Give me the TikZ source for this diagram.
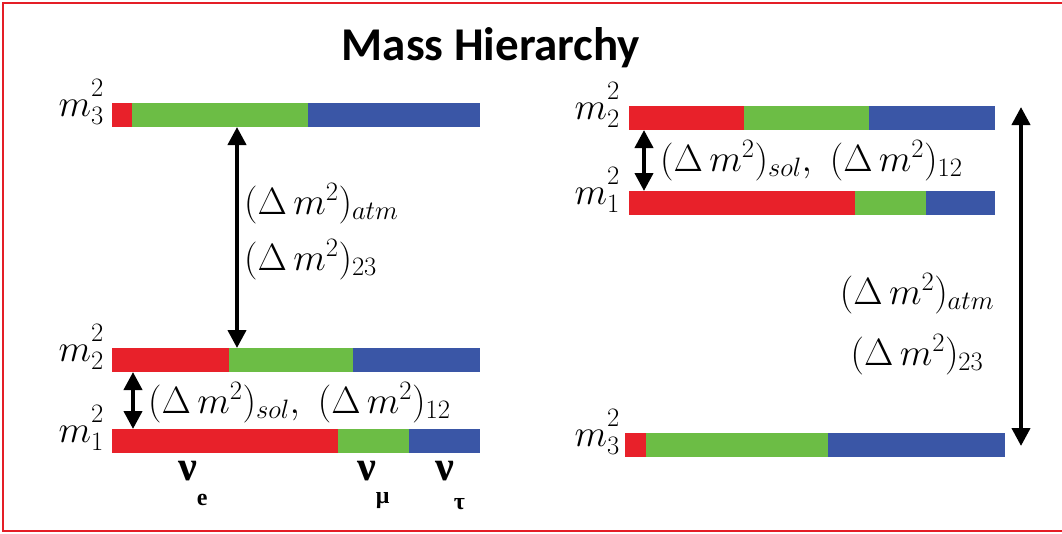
\documentclass[tikz,border=0pt]{standalone}
\usepackage{fix-cm}
\usepackage{fontspec}
\usepackage{tikz}
\usetikzlibrary{arrows.meta}
\newfontfamily\titlefont{Carlito}
\newfontfamily\nufont{Liberation Serif}
\definecolor{nuec}{HTML}{E8212A}
\definecolor{numuc}{HTML}{6CBD45}
\definecolor{nutauc}{HTML}{3A56A6}
\definecolor{framec}{HTML}{E41E26}
\tikzset{
  nue/.style={fill=nuec},
  numu/.style={fill=numuc},
  nutau/.style={fill=nutauc},
  gap/.style={{Triangle[width=18pt,length=18pt]}-{Triangle[width=18pt,length=18pt]}, line width=4pt},
  mlab/.style={anchor=base east, inner sep=0pt, font=\fontsize{38}{38}\selectfont},
  dlab/.style={anchor=base west, inner sep=0pt, font=\fontsize{38}{38}\selectfont},
  flab/.style={anchor=base west, inner sep=0pt, font=\nufont\bfseries\fontsize{42}{42}\selectfont},
}
\newcommand{\dmsq}[1]{(\Delta\, m^2)_{#1}}
\newcommand{\msq}[1]{m_{\mathstrut #1}^{\mathstrut 2}}
\newcommand{\flsub}[2]{\raisebox{#1}{\fontsize{24}{24}\selectfont #2}}

\begin{document}
\begin{tikzpicture}[x=1pt,y=-1pt]
\useasboundingbox (0,0) rectangle (1062,533);
\draw[framec, line width=2pt] (1062,3) -- (3,3) -- (3,531) -- (1062,531);
\node[anchor=base, inner sep=0pt, font=\titlefont\bfseries\fontsize{47}{47}\selectfont] (title) at (491,60) {Mass Hierarchy};
% normal ordering
\fill[nue]   (112,103) rectangle (132,127);
\fill[numu]  (132,103) rectangle (308,127);
\fill[nutau] (308,103) rectangle (480,127);
\fill[nue]   (112,348) rectangle (229,372);
\fill[numu]  (229,348) rectangle (353,372);
\fill[nutau] (353,348) rectangle (480,372);
\fill[nue]   (112,429) rectangle (338,453);
\fill[numu]  (338,429) rectangle (409,453);
\fill[nutau] (409,429) rectangle (480,453);
\node[mlab] (nm3) at (104,116) {$\msq{3}$};
\node[mlab] (nm2) at (104,361) {$\msq{2}$};
\node[mlab] (nm1) at (104,442) {$\msq{1}$};
\coordinate (n3b) at (237,127);
\coordinate (n2t) at (237,348);
\coordinate (n2b) at (133,372);
\coordinate (n1t) at (133,429);
\draw[gap] (n3b) -- (n2t);
\draw[gap] (n2b) -- (n1t);
\node[dlab] (natm) at (244,214) {$\dmsq{atm}$};
\node[dlab] (n23) at (244,270) {$\dmsq{23}$};
\node[dlab] (nsol) at (148,413) {$\dmsq{sol},\ \dmsq{12}$};
\node[flab] (fe) at (178,480) {ν\flsub{-25pt}{e}};
\node[flab] (fmu) at (357,480) {ν\flsub{-23pt}{μ}};
\node[flab] (ftau) at (435,480) {ν\flsub{-29pt}{τ}};
% inverted ordering
\fill[nue]   (629,106) rectangle (744,130);
\fill[numu]  (744,106) rectangle (869,130);
\fill[nutau] (869,106) rectangle (995,130);
\fill[nue]   (629,191) rectangle (855,215);
\fill[numu]  (855,191) rectangle (926,215);
\fill[nutau] (926,191) rectangle (995,215);
\fill[nue]   (625,433) rectangle (646,457);
\fill[numu]  (646,433) rectangle (828,457);
\fill[nutau] (828,433) rectangle (1005,457);
\node[mlab] (im2) at (620,119) {$\msq{2}$};
\node[mlab] (im1) at (620,204) {$\msq{1}$};
\node[mlab] (im3) at (620,446) {$\msq{3}$};
\coordinate (i2b) at (644,130);
\coordinate (i1t) at (644,191);
\coordinate (itop) at (1021,107);
\coordinate (ibot) at (1021,446);
\draw[gap] (i2b) -- (i1t);
\draw[gap] (itop) -- (ibot);
\node[dlab] (isol) at (660,171) {$\dmsq{sol},\ \dmsq{12}$};
\node[dlab, anchor=base] (iatm) at (917,304) {$\dmsq{atm}$};
\node[dlab, anchor=base] (i23) at (917,365) {$\dmsq{23}$};
\end{tikzpicture}
\end{document}
